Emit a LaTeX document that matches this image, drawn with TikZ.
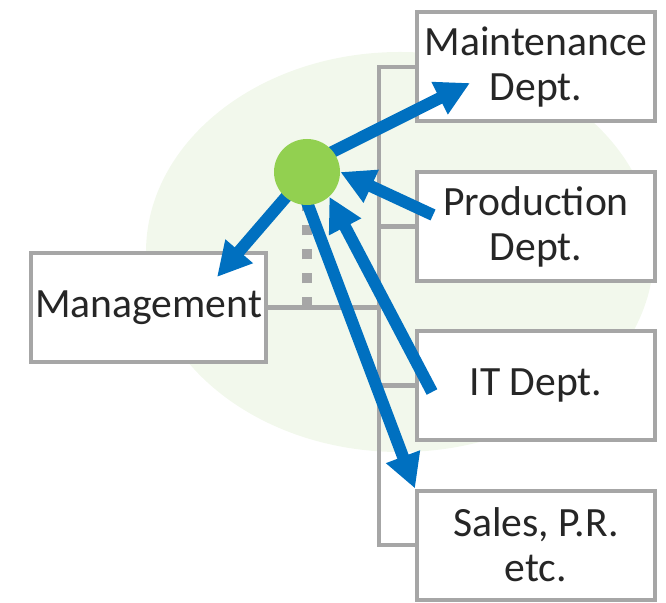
\documentclass[tikz,border=0pt]{standalone}
\usepackage{fontspec}
\setmainfont{Carlito}
\usetikzlibrary{arrows.meta}
\pgfdeclarelayer{front}
\pgfsetlayers{main,front}
\definecolor{r0g112b192}{rgb}{0.000000,0.439216,0.752941}
\definecolor{r146g208b80}{rgb}{0.572549,0.815686,0.313725}
\definecolor{r166g166b166}{rgb}{0.650980,0.650980,0.650980}
\definecolor{r242g248b236}{rgb}{0.949020,0.972549,0.925490}
\definecolor{r38g38b38}{rgb}{0.149020,0.149020,0.149020}
\tikzset{
  deptbox/.style={draw=r166g166b166, line width=0.08cm, fill=white, align=center,
    minimum width=4.76cm, minimum height=2.18cm, inner sep=0.05cm,
    text=r38g38b38, font=\fontsize{23.7}{25.6}\selectfont},
  rail/.style={draw=r166g166b166, line width=0.09cm},
  dotrail/.style={draw=r166g166b166, line width=0.2cm, dash pattern=on 0.2cm off 0.28cm},
  flow/.style={draw=r0g112b192, line width=0.24cm,
    -{Triangle[length=0.68cm, width=0.68cm]}},
  hubdot/.style={circle, fill=r146g208b80, minimum size=1.32cm, inner sep=0pt}
}
\begin{document}
\begin{tikzpicture}
% \clip (0,0) rectangle (13.32,12.04);
\useasboundingbox (0,0) rectangle (13.32,12.04);

% Filling background ellipse
\fill [r242g248b236] (8.00,7.00) ellipse (5.08 and 4.00);%

% Marking the rail
\coordinate (rail) at (7.58,0);

% Drawing boxes
\node (mgmt) [deptbox, minimum width=4.70cm] at (2.97,5.89) {Management};%
\node (maint) [deptbox] at (10.72,10.70) {Maintenance\\Dept.};%
\node (prod) [deptbox] at (10.72,7.51) {Production\\Dept.};%
\node (it) [deptbox] at (10.72,4.33) {IT Dept.};%
\node (sales) [deptbox] at (10.72,1.14) {Sales, P.R.\\etc.};%

% Drawing rail and its ticks
\path [rail] (maint.west) -- (maint.west -| rail) -- (sales.west -| rail) -- (sales.west);%
\path [rail] (prod.west) -- (prod.west -| rail);%
\path [rail] (it.west) -- (it.west -| rail);%
\path [rail] (mgmt.east) -- (mgmt.east -| rail);%

% Marking hub by circle
\begin{pgfonlayer}{front}
\node (hub) [hubdot] at (6.14,8.60) {};%
\end{pgfonlayer}

% Drawing dotted line from management line to hub
\draw [dotrail] (mgmt.east -| hub) -- (hub.center);%

% Marking arrow ends
\coordinate (mtip) at (9.40,10.38);
\coordinate (gtip) at (4.34,6.50);
\coordinate (ptail) at (8.66,7.74);
\coordinate (itail) at (8.64,4.20);

% Drawing arrows
\draw [flow, shorten <=-0.3cm] (hub.38) -- (mtip);%
\draw [flow] (ptail) -- (hub.0);%
\draw [flow, shorten <=-0.3cm] (hub.230) -- (gtip);%
\draw [flow] (itail) -- (hub.312);%
\draw [flow, shorten <=-0.3cm] (hub.272) -- (sales.north west);%
\end{tikzpicture}
\end{document}
